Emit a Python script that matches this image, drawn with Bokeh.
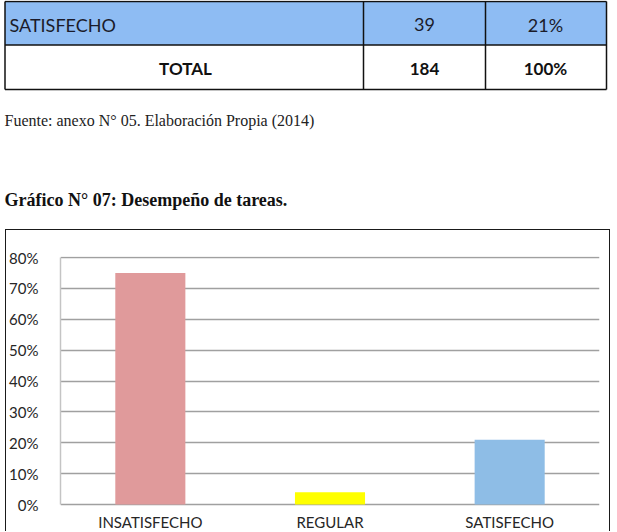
from bokeh.plotting import figure
from bokeh.models import Range1d, FactorRange, FixedTicker, NumeralTickFormatter, ColumnDataSource
from bokeh.embed import file_html
from bokeh.resources import INLINE
from bokeh.core.properties import value

# ---------------- data ----------------
categories = ["INSATISFECHO", "REGULAR", "SATISFECHO"]
percentages = [0.75, 0.04, 0.21]
bar_colors = ["#E09A9B", "#FFFF00", "#8EBDE6"]
y_ticks = [0, 0.1, 0.2, 0.3, 0.4, 0.5, 0.6, 0.7, 0.8]

table_labels = ["SATISFECHO", "TOTAL"]
table_counts = ["39", "184"]
table_pcts = ["21%", "100%"]
source_note = "Fuente: anexo N° 05. Elaboración Propia (2014)"
chart_title = "Gráfico N° 07: Desempeño de tareas."

SANS = value("Lato")
SERIF = value("Liberation Serif")

# ---------------- top part: table fragment + texts ----------------
top = figure(width=617, height=229, x_range=Range1d(0, 617), y_range=Range1d(229, 0),
             output_backend="svg", toolbar_location=None,
             x_axis_type=None, y_axis_type=None,
             min_border=0, min_border_left=0, min_border_right=0,
             min_border_top=0, min_border_bottom=0, outline_line_color=None)
top.grid.visible = False

col_edges = [4.5, 363, 485, 606]
row_edges = [1, 44.5, 89]

top.quad(left=[col_edges[0]], right=[col_edges[-1]], top=[row_edges[0]], bottom=[row_edges[1]],
         fill_color="#8EBCF3", line_color=None)
top.segment(x0=col_edges, x1=col_edges, y0=[row_edges[0]] * 4, y1=[row_edges[-1]] * 4,
            line_color="#111111", line_width=1.5)
top.segment(x0=[col_edges[0]] * 3, x1=[col_edges[-1]] * 3, y0=row_edges, y1=row_edges,
            line_color="#111111", line_width=1.5)

row_y = [24, 68]
top.text(x=[9], y=[row_y[0]], text=[table_labels[0]], text_font=SANS, text_font_size="18px",
         text_align="left", text_baseline="middle", text_color="#1B1B2A")
top.text(x=[185], y=[row_y[1]], text=[table_labels[1]], text_font=SANS, text_font_size="17px",
         text_font_style="bold", text_align="center", text_baseline="middle", text_color="#111111")
top.text(x=[424, 545], y=[row_y[0]] * 2, text=[table_counts[0], table_pcts[0]], text_font=SANS,
         text_font_size="18px", text_align="center", text_baseline="middle", text_color="#1B1B2A")
top.text(x=[424, 545], y=[row_y[1]] * 2, text=[table_counts[1], table_pcts[1]], text_font=SANS,
         text_font_size="17px", text_font_style="bold", text_align="center",
         text_baseline="middle", text_color="#111111")

top.text(x=[4], y=[120], text=[source_note], text_font=SERIF, text_font_size="16px",
         text_align="left", text_baseline="middle", text_color="#222222")
top.text(x=[4], y=[199], text=[chart_title], text_font=SERIF, text_font_size="18px",
         text_font_style="bold", text_align="left", text_baseline="middle", text_color="#111111")

# ---------------- chart ----------------
px_per_unit = (504 - 257) / 0.8
y_start = -(532 - 504) / px_per_unit
y_end = 0.8 + 1 / px_per_unit

chart = figure(width=605, height=302,
               x_range=FactorRange(factors=categories, range_padding=0),
               y_range=Range1d(y_start, y_end),
               output_backend="svg", toolbar_location=None,
               min_border_left=52, min_border_right=12, min_border_top=26, min_border_bottom=0,
               outline_line_color=None)
chart.styles = {"margin-left": "5px",
                "border-left": "1px solid #1a1a1a", "border-top": "1px solid #1a1a1a",
                "border-right": "1px solid #1a1a1a"}

src = ColumnDataSource(dict(cat=categories, val=percentages, color=bar_colors))
chart.vbar(x="cat", top="val", width=0.39, fill_color="color", line_color=None, source=src)

chart.xaxis.visible = False
chart.xgrid.visible = False

yax = chart.yaxis[0]
yax.ticker = FixedTicker(ticks=y_ticks)
yax.formatter = NumeralTickFormatter(format="0%")
yax.bounds = (0, 0.8)
yax.axis_line_color = "#C4C4C4"
yax.axis_line_width = 1.5
yax.major_tick_line_color = None
yax.minor_tick_line_color = None
yax.major_label_standoff = 16
yax.major_label_text_font = "Lato"
yax.major_label_text_font_size = "15px"
yax.major_label_text_color = "#262626"

chart.ygrid.grid_line_color = "#A0A0A0"
chart.ygrid.grid_line_width = 1.5

label_y = -(512 - 504) / px_per_unit
chart.text(x=categories, y=[label_y] * len(categories), text=categories, text_font=SANS,
           text_font_size="15px", text_align="center", text_baseline="top", text_color="#262626")

open("out.html", "w").write(file_html([top, chart], INLINE))
